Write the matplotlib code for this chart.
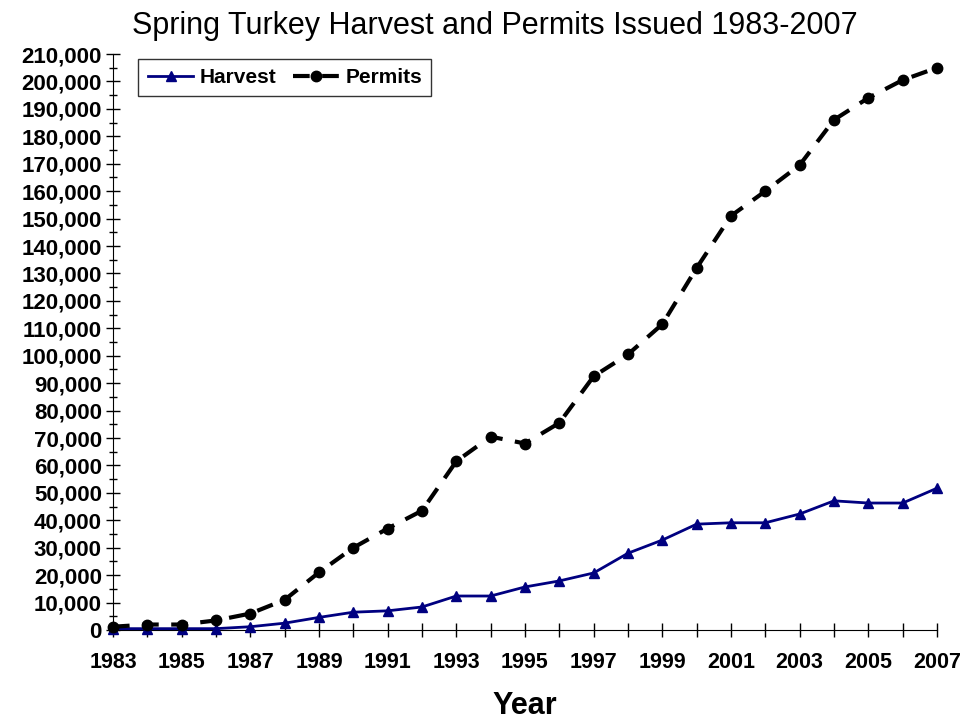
import matplotlib
matplotlib.use("Agg")
import matplotlib.pyplot as plt
from matplotlib.ticker import MultipleLocator, FuncFormatter

plt.rcParams['font.family'] = ['Liberation Sans', 'DejaVu Sans']

years = list(range(1983, 2008))
harvest = [500, 500, 500, 500, 1200, 2500, 4600, 6500, 7000, 8400,
           12400, 12400, 15700, 17900, 20800, 28000, 32800, 38600, 39100, 39100,
           42300, 47100, 46300, 46300, 51700]
permits = [1200, 2000, 2000, 3500, 6000, 11000, 21000, 30000, 37000, 43500,
           61500, 70500, 68000, 75500, 92500, 100500, 111500, 132000, 151000, 160000,
           169500, 186000, 194000, 200500, 205000]

fig = plt.figure(figsize=(9.63, 7.24), dpi=100)
ax = fig.add_axes([0.1173, 0.1298, 0.973 - 0.1173, 0.9254 - 0.1298])

ax.plot(years, harvest, color='#000080', lw=2, marker='^', markersize=7.5,
        label='Harvest', clip_on=False, zorder=3)
ax.plot(years, permits, color='black', lw=3, dashes=(4, 3), marker='o', markersize=7.5,
        label='Permits', clip_on=False, zorder=3)

ax.set_xlim(1983, 2007)
ax.set_ylim(0, 210000)
ax.spines['top'].set_visible(False)
ax.spines['right'].set_visible(False)

ax.yaxis.set_major_locator(MultipleLocator(10000))
ax.yaxis.set_minor_locator(MultipleLocator(5000))
ax.yaxis.set_major_formatter(FuncFormatter(lambda v, p: '{:,.0f}'.format(v)))
ax.set_xticks(years)
ax.set_xticklabels([str(y) if (y - 1983) % 2 == 0 else '' for y in years])

ax.tick_params(axis='y', which='major', direction='inout', length=10, width=1, labelsize=16, pad=3)
ax.tick_params(axis='y', which='minor', direction='inout', length=6, width=1)
ax.tick_params(axis='x', which='major', direction='inout', length=10, width=1, labelsize=15.5, pad=11)
for lab in ax.get_xticklabels() + ax.get_yticklabels():
    lab.set_fontweight('bold')

ax.set_xlabel('Year', fontsize=22, fontweight='bold', labelpad=13)
fig.suptitle('Spring Turkey Harvest and Permits Issued 1983-2007', fontsize=22, x=0.514, y=0.985)

leg = ax.legend(loc='upper left', bbox_to_anchor=(0.018, 1.01), ncol=2, frameon=True,
                fancybox=False, edgecolor='black', prop={'weight': 'bold', 'size': 15},
                handlelength=2.2, columnspacing=0.8, handletextpad=0.3, borderpad=0.45)
leg.get_frame().set_linewidth(1)

fig.savefig('out.png', dpi=100)
